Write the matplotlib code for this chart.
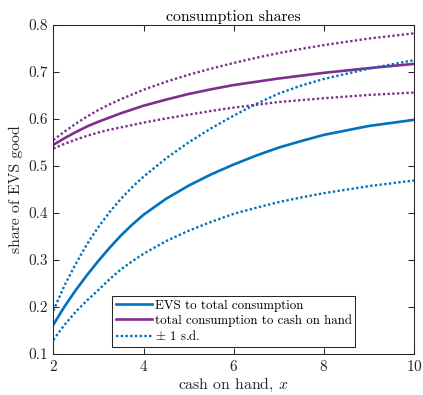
import matplotlib
matplotlib.use("Agg")
import matplotlib.pyplot as plt
import numpy as np

plt.rcParams['font.family'] = ['cmr10', 'DejaVu Serif']
plt.rcParams['mathtext.fontset'] = 'cm'
plt.rcParams['axes.formatter.use_mathtext'] = True

# cash on hand grid
x = np.array([2, 2.25, 2.5, 2.75, 3, 3.25, 3.5, 3.75, 4, 4.5, 5, 5.5, 6, 6.5, 7, 7.5, 8, 9, 10])

# EVS share of total consumption, mean and +/- 1 s.d.
evs_mean = np.array([0.162, 0.201, 0.236, 0.268, 0.298, 0.326, 0.352, 0.375, 0.396, 0.430,
                     0.458, 0.482, 0.503, 0.522, 0.539, 0.553, 0.566, 0.585, 0.598])
evs_hi = np.array([0.192, 0.246, 0.292, 0.334, 0.370, 0.402, 0.430, 0.455, 0.477, 0.516,
                   0.550, 0.580, 0.607, 0.632, 0.654, 0.671, 0.685, 0.707, 0.725])
evs_lo = np.array([0.130, 0.162, 0.190, 0.214, 0.236, 0.259, 0.280, 0.297, 0.313, 0.340,
                   0.362, 0.381, 0.398, 0.411, 0.423, 0.433, 0.442, 0.457, 0.469])

# total consumption share of cash on hand, mean and +/- 1 s.d.
cons_mean = np.array([0.545, 0.559, 0.572, 0.584, 0.594, 0.603, 0.612, 0.620, 0.628, 0.641,
                      0.653, 0.663, 0.672, 0.679, 0.686, 0.692, 0.698, 0.708, 0.717])
cons_hi = np.array([0.555, 0.573, 0.590, 0.605, 0.619, 0.631, 0.642, 0.652, 0.662, 0.679,
                    0.694, 0.707, 0.719, 0.730, 0.740, 0.749, 0.757, 0.771, 0.782])
cons_lo = np.array([0.537, 0.547, 0.556, 0.564, 0.571, 0.577, 0.582, 0.587, 0.592, 0.601,
                    0.609, 0.617, 0.624, 0.630, 0.636, 0.640, 0.644, 0.651, 0.656])

blue = '#0072BD'
purple = '#7E2F8E'
axcol = '#262626'
dot = (0, (1, 1))

fig = plt.figure(figsize=(4.23, 3.95), dpi=100)
ax = fig.add_axes([0.126, 0.104, 0.853, 0.833])

h1, = ax.plot(x, evs_mean, color=blue, lw=1.9)
h2, = ax.plot(x, cons_mean, color=purple, lw=1.9)
h3, = ax.plot(x, evs_hi, color=blue, lw=1.7, linestyle=dot)
ax.plot(x, evs_lo, color=blue, lw=1.7, linestyle=dot)
ax.plot(x, cons_hi, color=purple, lw=1.7, linestyle=dot)
ax.plot(x, cons_lo, color=purple, lw=1.7, linestyle=dot)

ax.set_xlim(2, 10)
ax.set_ylim(0.1, 0.8)
ax.set_xticks([2, 4, 6, 8, 10])
ax.set_yticks(np.arange(0.1, 0.81, 0.1))
ax.set_yticklabels(['0.1', '0.2', '0.3', '0.4', '0.5', '0.6', '0.7', '0.8'])

ax.tick_params(direction='in', top=True, right=True, length=4, width=0.75,
               colors=axcol, labelsize=11, pad=4)
for s in ax.spines.values():
    s.set_color(axcol)
    s.set_linewidth(0.75)

ax.set_title('consumption shares', fontsize=11.3, color='black', pad=3)
ax.set_xlabel('cash on hand, $x$', fontsize=11.3, color=axcol, labelpad=1)
ax.set_ylabel('share of EVS good', fontsize=11.3, color=axcol, labelpad=4)

leg = ax.legend([h1, h2, h3],
                ['EVS to total consumption', 'total consumption to cash on hand',
                 r'$\pm$ 1 s.d.'],
                loc='lower center', bbox_to_anchor=(0.5, 0.02), fontsize=9.3,
                handlelength=2.8, handletextpad=0.2, labelspacing=0.2,
                borderpad=0.3, borderaxespad=0, fancybox=False, framealpha=1)
leg.get_frame().set_edgecolor(axcol)
leg.get_frame().set_linewidth(0.75)

fig.savefig('out.png', dpi=100)
